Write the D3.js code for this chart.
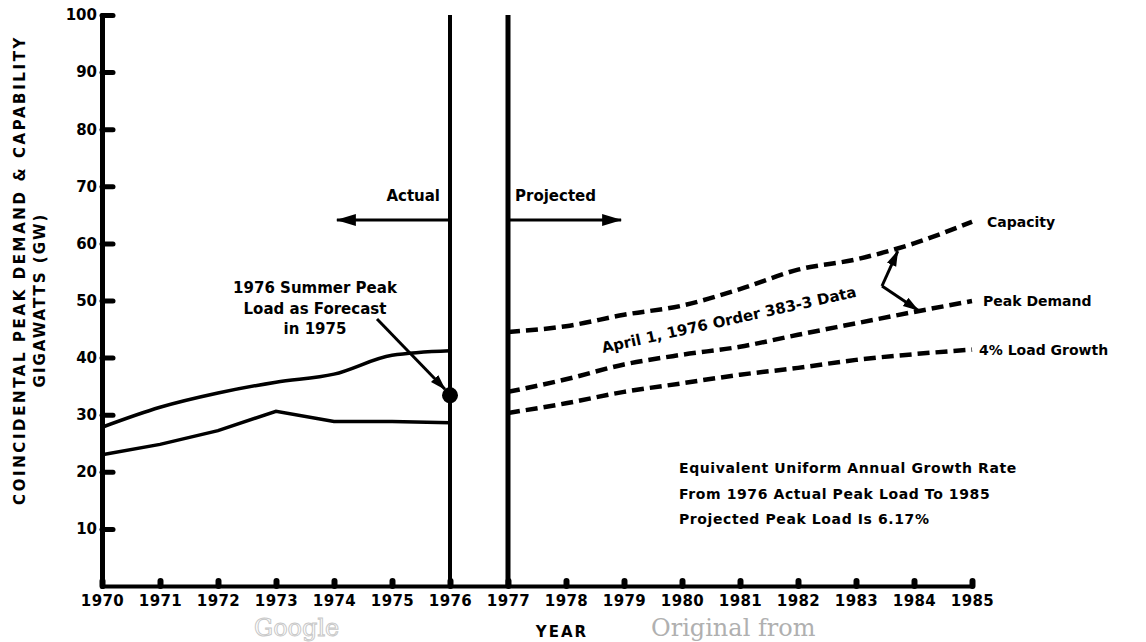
<!DOCTYPE html>
<html>
<head>
<meta charset="utf-8">
<script src="https://cdn.jsdelivr.net/npm/d3@7"></script>
<style>
  body { margin: 0; background: #fff; }
  svg text { font-family: "DejaVu Sans", sans-serif; font-weight: bold; fill: #000; }
</style>
</head>
<body>
<svg id="chart"></svg>
<script>
// tick labels
var yearTicks = [1970, 1971, 1972, 1973, 1974, 1975, 1976, 1977, 1978, 1979, 1980, 1981, 1982, 1983, 1984, 1985];
var valueTicks = [10, 20, 30, 40, 50, 60, 70, 80, 90, 100];

// actual (1970-1976)
var actualYears = [1970, 1971, 1972, 1973, 1974, 1975, 1976];
var actualCapacity = [27.8, 31.3, 33.8, 35.7, 37.1, 40.4, 41.2];
var actualPeak = [23.0, 24.8, 27.2, 30.6, 28.8, 28.8, 28.6];

// projected (1977-1985), April 1, 1976 Order 383-3 data
var projYears = [1977, 1978, 1979, 1980, 1981, 1982, 1983, 1984, 1985];
var projCapacity = [44.5, 45.5, 47.5, 49.1, 52.0, 55.4, 57.2, 60.0, 63.8];
var projPeak = [34.0, 36.2, 38.8, 40.5, 41.9, 44.0, 46.0, 48.0, 49.9];
var projGrowth = [30.3, 32.0, 34.0, 35.5, 37.0, 38.2, 39.6, 40.6, 41.4];

var forecastYear = 1976;
var forecastValue = 33.4;

var width = 1146, height = 642;

var svg = d3.select("#chart")
            .attr("width", width)
            .attr("height", height);

var x = d3.scaleLinear().domain([1970, 1985]).range([102, 972]);
var y = d3.scaleLinear().domain([0, 100]).range([586, 15]);

var defs = svg.append("defs");
defs.append("marker")
    .attr("id", "bigHead")
    .attr("viewBox", "0 -7 20 14")
    .attr("markerUnits", "userSpaceOnUse")
    .attr("markerWidth", 20).attr("markerHeight", 14)
    .attr("refX", 19).attr("refY", 0)
    .attr("orient", "auto")
    .append("path").attr("d", "M0,-6L20,0L0,6Z").attr("fill", "#000");
defs.append("marker")
    .attr("id", "smallHead")
    .attr("viewBox", "0 -6 16 12")
    .attr("markerUnits", "userSpaceOnUse")
    .attr("markerWidth", 16).attr("markerHeight", 12)
    .attr("refX", 15).attr("refY", 0)
    .attr("orient", "auto")
    .append("path").attr("d", "M0,-5L16,0L0,5Z").attr("fill", "#000");

// y axis
var yAxis = svg.append("g")
    .attr("transform", "translate(102,0)")
    .call(d3.axisLeft(y).tickValues(valueTicks).tickSize(-11).tickSizeOuter(0).tickPadding(5));
yAxis.select(".domain").attr("stroke-width", 5).attr("stroke-linecap", "round");
yAxis.selectAll(".tick line").attr("stroke-width", 5).attr("stroke-linecap", "round");
yAxis.selectAll(".tick text")
    .style("font-size", "15px").style("font-family", "DejaVu Sans").style("font-weight", "bold");

// x axis
var xAxis = svg.append("g")
    .attr("transform", "translate(0,586)")
    .call(d3.axisBottom(x).tickValues(yearTicks).tickFormat(d3.format("d"))
            .tickSize(-5).tickSizeOuter(0).tickPadding(9));
xAxis.select(".domain").attr("stroke-width", 4).attr("stroke-linecap", "round");
xAxis.selectAll(".tick line").attr("stroke-width", 6).attr("stroke-linecap", "round");
xAxis.selectAll(".tick text")
    .style("font-size", "15px").style("font-family", "DejaVu Sans").style("font-weight", "bold")
    .style("letter-spacing", "0.4px");

// actual / projected separators
svg.selectAll(".divider")
   .data([1976, 1977])
   .enter()
   .append("line")
   .attr("x1", function(d) { return x(d); })
   .attr("x2", function(d) { return x(d); })
   .attr("y1", y(100))
   .attr("y2", y(0))
   .attr("stroke", "#000")
   .attr("stroke-width", function(d, i) { return i == 0 ? 4 : 5; });

// actual lines
var actualSeries = [
  { values: actualCapacity, curve: d3.curveMonotoneX },
  { values: actualPeak, curve: d3.curveLinear }
];
actualSeries.forEach(function(s) {
  var line = d3.line()
               .x(function(d, i) { return x(actualYears[i]); })
               .y(function(d) { return y(d); })
               .curve(s.curve);
  svg.append("path")
     .attr("d", line(s.values))
     .attr("fill", "none")
     .attr("stroke", "#000")
     .attr("stroke-width", 3.5);
});

// projected lines
var projSeries = [
  { name: "Capacity", values: projCapacity, dx: 15 },
  { name: "Peak Demand", values: projPeak, dx: 11 },
  { name: "4% Load Growth", values: projGrowth, dx: 7 }
];
var projLine = d3.line()
                 .x(function(d, i) { return x(projYears[i]); })
                 .y(function(d) { return y(d); })
                 .curve(d3.curveMonotoneX);
svg.selectAll(".proj")
   .data(projSeries)
   .enter()
   .append("path")
   .attr("d", function(d) { return projLine(d.values); })
   .attr("fill", "none")
   .attr("stroke", "#000")
   .attr("stroke-width", 4.5)
   .attr("stroke-dasharray", "12,6");

svg.selectAll(".projLabel")
   .data(projSeries)
   .enter()
   .append("text")
   .attr("x", function(d) { return x(1985) + d.dx; })
   .attr("y", function(d) { return y(d.values[d.values.length - 1]); })
   .attr("dy", "0.35em")
   .style("font-size", "14px")
   .text(function(d) { return d.name; });

// forecast dot
svg.append("circle")
   .attr("cx", x(forecastYear))
   .attr("cy", y(forecastValue))
   .attr("r", 8)
   .attr("fill", "#000");

// Actual / Projected headers and arrows
svg.append("text").attr("x", x(1976) - 10).attr("y", 201)
   .attr("text-anchor", "end").style("font-size", "15px").text("Actual");
svg.append("text").attr("x", x(1977) + 7).attr("y", 201)
   .style("font-size", "15px").text("Projected");
svg.append("line")
   .attr("x1", x(1976) - 2).attr("x2", x(1974.05))
   .attr("y1", 220).attr("y2", 220)
   .attr("stroke", "#000").attr("stroke-width", 3)
   .attr("marker-end", "url(#bigHead)");
svg.append("line")
   .attr("x1", x(1977) + 2).attr("x2", x(1978.95))
   .attr("y1", 220).attr("y2", 220)
   .attr("stroke", "#000").attr("stroke-width", 3)
   .attr("marker-end", "url(#bigHead)");

// forecast annotation
var noteLines = ["1976 Summer Peak", "Load as Forecast", "in 1975"];
svg.selectAll(".forecastNote")
   .data(noteLines)
   .enter()
   .append("text")
   .attr("x", 315)
   .attr("y", function(d, i) { return 293 + i * 20.5; })
   .attr("text-anchor", "middle")
   .style("font-size", "15px")
   .text(function(d) { return d; });
svg.append("line")
   .attr("x1", 377).attr("y1", 319)
   .attr("x2", x(forecastYear) - 5).attr("y2", y(forecastValue) - 6)
   .attr("stroke", "#000").attr("stroke-width", 3)
   .attr("marker-end", "url(#smallHead)");

// order 383-3 annotation
svg.append("text")
   .attr("transform", "translate(603,353) rotate(-12.5)")
   .style("font-size", "15px")
   .text("April 1, 1976 Order 383-3 Data");
var origin = [882, 286];
svg.append("line")
   .attr("x1", origin[0]).attr("y1", origin[1])
   .attr("x2", x(1983.72)).attr("y2", y(59.0) + 2)
   .attr("stroke", "#000").attr("stroke-width", 3)
   .attr("marker-end", "url(#smallHead)");
svg.append("line")
   .attr("x1", origin[0]).attr("y1", origin[1])
   .attr("x2", x(1984.07)).attr("y2", y(48.3))
   .attr("stroke", "#000").attr("stroke-width", 3)
   .attr("marker-end", "url(#smallHead)");

// growth rate note
var rateLines = ["Equivalent Uniform Annual Growth Rate", "From 1976 Actual Peak Load To 1985", "Projected Peak Load Is 6.17%"];
svg.selectAll(".rateNote")
   .data(rateLines)
   .enter()
   .append("text")
   .attr("x", 679)
   .attr("y", function(d, i) { return 473 + i * 25.5; })
   .style("font-size", "14px")
   .style("letter-spacing", "0.6px")
   .text(function(d) { return d; });

// axis titles
svg.append("text")
   .attr("transform", "translate(25,270) rotate(-90)")
   .attr("text-anchor", "middle")
   .style("font-size", "15px")
   .style("letter-spacing", "2.6px")
   .text("COINCIDENTAL PEAK DEMAND & CAPABILITY");
svg.append("text")
   .attr("transform", "translate(45,300) rotate(-90)")
   .attr("text-anchor", "middle")
   .style("font-size", "15px")
   .style("letter-spacing", "2px")
   .text("GIGAWATTS (GW)");
svg.append("text")
   .attr("x", 562).attr("y", 637)
   .attr("text-anchor", "middle")
   .style("font-size", "15px")
   .style("letter-spacing", "2px")
   .text("YEAR");

// scan watermark
svg.append("text")
   .attr("x", 651).attr("y", 636)
   .style("font-family", "DejaVu Serif").style("font-weight", "normal")
   .style("font-size", "24px").style("fill", "#b0b0b0")
   .text("Original from");
svg.append("text")
   .attr("x", 254).attr("y", 636)
   .style("font-family", "DejaVu Serif").style("font-weight", "normal")
   .style("font-size", "24px").style("fill", "none")
   .attr("stroke", "#c8c8c8").attr("stroke-width", 1)
   .text("Google");
</script>
</body>
</html>
